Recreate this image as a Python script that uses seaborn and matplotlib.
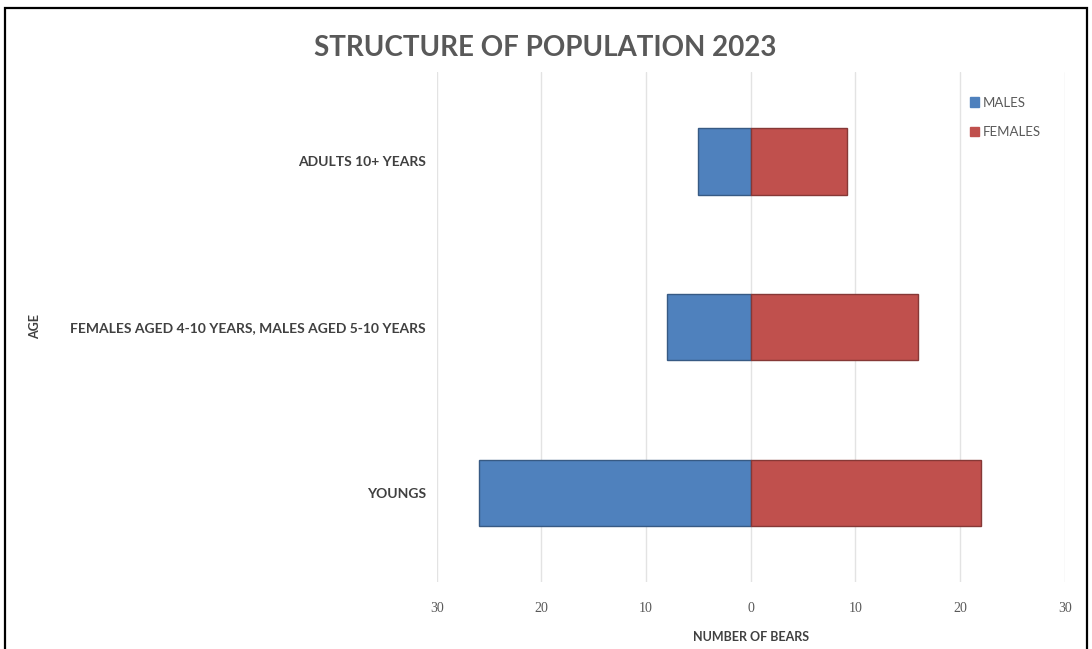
import matplotlib
matplotlib.use("Agg")
import matplotlib.pyplot as plt
import seaborn as sns
import pandas as pd
from matplotlib.patches import Rectangle, Patch
from matplotlib.ticker import FuncFormatter

categories = ["ADULTS 10+ YEARS",
              "FEMALES AGED 4-10 YEARS, MALES AGED 5-10 YEARS",
              "YOUNGS"]
males = [5, 8, 26]
females = [9.2, 16, 22]
xticks = [-30, -20, -10, 0, 10, 20, 30]

male_color = "#4F81BD"
female_color = "#C0504D"

df = pd.DataFrame({
    "age": categories * 2,
    "value": [-m for m in males] + females,
    "sex": ["MALES"] * len(categories) + ["FEMALES"] * len(categories),
})

sns.set_theme(style="white")
plt.rcParams["font.family"] = ["Lato", "DejaVu Sans"]

fig = plt.figure(figsize=(10.92, 6.49), dpi=100)
ax = fig.add_axes([0.400, 0.103, 0.575, 0.786])

sns.barplot(data=df, x="value", y="age", hue="sex", order=categories,
            hue_order=["MALES", "FEMALES"],
            palette={"MALES": male_color, "FEMALES": female_color},
            dodge=False, width=0.4, orient="h", ax=ax, legend=False,
            saturation=1)

for bar in ax.patches:
    fc = bar.get_facecolor()
    bar.set_edgecolor((fc[0] * 0.7, fc[1] * 0.7, fc[2] * 0.7, 1))
    bar.set_linewidth(1.0)

ax.set_xlim(-30, 30)
ax.set_ylim(2.54, -0.54)
ax.set_xticks(xticks)
ax.xaxis.set_major_formatter(FuncFormatter(lambda v, p: f"{abs(int(v))}"))
ax.grid(axis="x", color="#E3E3E3", linewidth=1)
ax.set_axisbelow(True)
for s in ax.spines.values():
    s.set_visible(False)
ax.tick_params(axis="both", length=0)
ax.tick_params(axis="x", pad=14, labelsize=10, labelcolor="#595959")
ax.tick_params(axis="y", pad=8)
for lab in ax.get_xticklabels():
    lab.set_family(["Liberation Serif", "DejaVu Serif"])
for lab in ax.get_yticklabels():
    lab.set_fontsize(10)
    lab.set_fontweight("bold")
    lab.set_color("#404040")

ax.set_xlabel("NUMBER OF BEARS", fontsize=9, fontweight="bold", color="#404040", labelpad=12)
fig.text(0.032, 0.497, "AGE", rotation=90, ha="center", va="center",
         fontsize=9, fontweight="bold", color="#404040")
ax.set_ylabel("")

fig.text(0.499, 0.926, "STRUCTURE OF POPULATION 2023", ha="center", va="center",
         fontsize=20, fontweight="bold", color="#595959")

handles = [Patch(facecolor=male_color, edgecolor=male_color),
           Patch(facecolor=female_color, edgecolor=female_color)]
leg = ax.legend(handles, ["MALES", "FEMALES"], loc="upper left",
                bbox_to_anchor=(0.83, 0.975), frameon=False, fontsize=9.5,
                handlelength=0.7, handleheight=0.7, handletextpad=0.3,
                labelspacing=1.3)
for t in leg.get_texts():
    t.set_color("#595959")

fig.patches.append(Rectangle((0.0046, -0.02), 0.9908, 1.008, transform=fig.transFigure,
                             fill=False, edgecolor="black", linewidth=1.6))

fig.savefig("out.png", dpi=100)
